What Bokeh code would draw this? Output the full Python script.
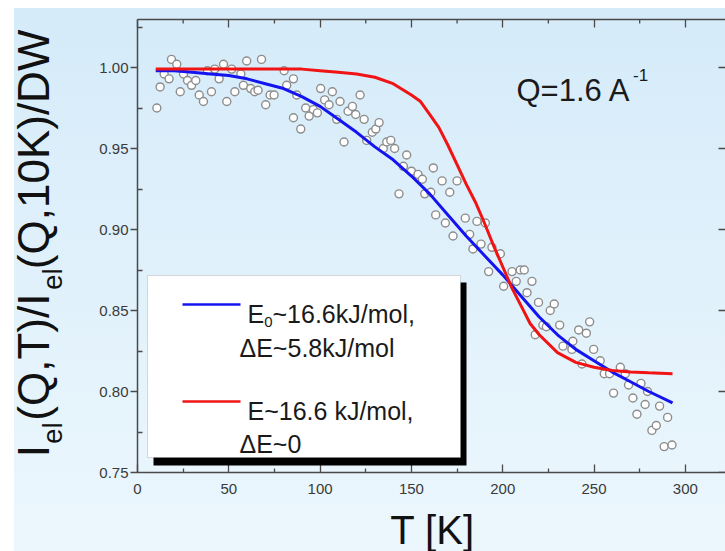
import math
from bokeh.plotting import figure
from bokeh.models import Range1d, LinearAxis, FixedTicker, NumeralTickFormatter, Label, BoxAnnotation
from bokeh.embed import file_html
from bokeh.resources import INLINE

# ---------------- data ----------------
T_obs = [10.6, 12.4, 14.6, 17.3, 18.6, 21.5, 23.4, 25.2, 27.4, 29.6, 31.9, 33.8, 36.1, 38.3, 40.5,
         42.3, 44.7, 47.1, 48.9, 51.6, 53.3, 56.6, 58.0, 59.8, 62.0, 64.2, 66.0, 67.9, 70.2, 72.6,
         74.8, 80.3, 81.7, 85.4, 85.4, 87.2, 89.4, 92.1, 94.0, 96.3, 98.5, 100.3, 102.5, 104.9,
         106.7, 109.1, 110.9, 113.1, 115.3, 117.7, 119.5, 121.9, 124.1, 125.5, 128.6, 130.5,
         132.3, 134.6, 136.5, 138.7, 140.8, 143.2, 145.6, 147.4, 150.0, 153.6, 156.0, 157.3,
         160.6, 162.0, 163.3, 166.8, 171.0, 175.0, 179.5, 168.6, 172.8, 181.9, 185.9, 190.5,
         183.7, 188.1, 194.1, 198.7, 192.3, 200.5, 205.1, 209.6, 211.8, 207.4, 216.0, 213.3,
         219.6, 226.0, 228.2, 222.0, 231.2, 217.8, 223.9, 241.6, 245.8, 247.6, 233.0, 237.9,
         238.4, 249.8, 243.4, 253.4, 255.6, 258.5, 264.4, 267.1, 268.9, 275.7, 260.7, 271.3,
         278.0, 273.5, 279.3, 285.9, 290.3, 281.7, 284.1, 288.4, 292.7]
I_obs = [0.975, 0.988, 0.996, 0.993, 1.005, 1.002, 0.985, 0.996, 0.992, 0.989, 0.992, 0.983, 0.979,
         0.998, 0.985, 0.999, 0.993, 1.002, 0.979, 0.999, 0.985, 0.996, 0.989, 1.004, 0.987, 0.985,
         0.986, 1.005, 0.977, 0.983, 0.983, 0.998, 0.989, 0.993, 0.969, 0.983, 0.962, 0.975, 0.970,
         0.974, 0.972, 0.987, 0.980, 0.977, 0.985, 0.968, 0.979, 0.954, 0.973, 0.976, 0.971, 0.983,
         0.968, 0.955, 0.960, 0.962, 0.966, 0.950, 0.954, 0.955, 0.950, 0.922, 0.939, 0.946, 0.936,
         0.934, 0.931, 0.922, 0.923, 0.938, 0.909, 0.930, 0.923, 0.930, 0.907, 0.904, 0.896, 0.897,
         0.905, 0.904, 0.888, 0.891, 0.889, 0.885, 0.874, 0.865, 0.874, 0.875, 0.875, 0.868, 0.868,
         0.861, 0.855, 0.850, 0.854, 0.841, 0.841, 0.835, 0.840, 0.838, 0.836, 0.843, 0.828, 0.826,
         0.831, 0.826, 0.817, 0.819, 0.811, 0.811, 0.815, 0.811, 0.804, 0.805, 0.799, 0.796, 0.792,
         0.786, 0.800, 0.791, 0.784, 0.776, 0.779, 0.766, 0.767]

T_blue = [10, 20, 30, 40, 50, 60, 70, 80, 90, 100, 110, 120, 130, 140, 150, 160, 170, 180, 190,
          200, 210, 220, 230, 240, 250, 260, 270, 280, 293]
I_blue = [0.998, 0.998, 0.997, 0.996, 0.995, 0.993, 0.990, 0.987, 0.982, 0.976, 0.968, 0.960,
          0.951, 0.943, 0.933, 0.922, 0.909, 0.896, 0.884, 0.872, 0.859, 0.846, 0.835, 0.826,
          0.819, 0.812, 0.806, 0.800, 0.793]

T_red = [10, 30, 50, 70, 90, 100, 110, 120, 130, 140, 150, 155, 160, 165, 170, 175, 180, 185, 190,
         195, 200, 205, 210, 215, 220, 230, 240, 250, 260, 270, 280, 293]
I_red = [0.999, 0.999, 0.999, 0.999, 0.999, 0.998, 0.997, 0.996, 0.994, 0.990, 0.983, 0.979,
         0.971, 0.963, 0.952, 0.940, 0.928, 0.917, 0.904, 0.890, 0.877, 0.864, 0.853, 0.842,
         0.835, 0.824, 0.818, 0.815, 0.813, 0.812, 0.8115, 0.811]

x_ticks = [0, 50, 100, 150, 200, 250, 300]
x_minor = [25, 75, 125, 175, 225, 275]
y_ticks = [0.75, 0.80, 0.85, 0.90, 0.95, 1.00]
y_minor = [0.775, 0.825, 0.875, 0.925, 0.975, 1.025]

legend_blue = ["E", "0", "~16.6kJ/mol,", "\u0394E~5.8kJ/mol"]
legend_red = ["E~16.6 kJ/mol,", "\u0394E~0"]
q_text = ["Q=1.6 A", "-1"]
y_main = ["I", "(Q,T)/I", "(Q,10K)/DW"]
y_sub = "el"
x_label = "T [K]"

# ---------------- layout (pixels) ----------------
W, H = 725, 551
FL, FR, FT, FB = 137, 725, 19, 472
X0, X1 = 0.0, 322.0
Y0 = 0.75
Y1 = 0.75 + (FB - FT) / 1620.0

def dx(px):
    return X0 + (px - FL) * (X1 - X0) / (FR - FL)

def dy(py):
    return Y0 + (FB - py) * (Y1 - Y0) / (FB - FT)

NB = "\u00a0"
CW = {"I": 278, "(": 333, ")": 333, "Q": 778, ",": 278, "T": 611, "/": 278, "1": 556, "0": 556,
      "K": 667, "D": 722, "W": 944, "e": 556, "l": 222, "E": 667, "~": 584, "6": 556, ".": 278,
      "k": 500, "J": 500, "m": 833, "o": 556, " ": 278, NB: 278, "5": 556, "8": 556, "=": 584,
      "A": 667, "-": 333, "\u0394": 668}

def tw(s, size):
    return sum(CW.get(c, 556) for c in s) / 1000.0 * size

FONT = "Liberation Sans"
AX = "#4a4a4a"

p = figure(width=W, height=H, x_range=Range1d(X0, X1), y_range=Range1d(Y0, Y1),
           x_axis_type=None, y_axis_type=None, output_backend="svg", toolbar_location=None,
           min_border_left=FL, min_border_right=0, min_border_top=FT, min_border_bottom=H - FB,
           styles={"background": "linear-gradient(#d5ebf9, #ecf7fd) 14px 8px / 711px 543px no-repeat, #ffffff"})
p.border_fill_color = None
p.background_fill_color = None
p.outline_line_color = None

def style_axis(a):
    a.axis_line_color = AX
    a.axis_line_width = 1.5
    a.major_tick_line_color = AX
    a.minor_tick_line_color = AX
    a.major_tick_line_width = 1.3
    a.minor_tick_line_width = 1.3
    a.major_label_text_font = FONT
    a.major_label_text_font_size = "15px"
    a.major_label_text_color = "#3a3a3a"

xb = LinearAxis(ticker=FixedTicker(ticks=x_ticks, minor_ticks=x_minor))
style_axis(xb)
xb.major_tick_in, xb.major_tick_out = 8, 0
xb.minor_tick_in, xb.minor_tick_out = 4, 0
xb.major_label_standoff = 11
p.add_layout(xb, "below")

# top frame edge: an unlabelled axis whose (label-free) minor ticks sit at the 50 K marks
xt = LinearAxis(ticker=FixedTicker(ticks=[], minor_ticks=x_ticks))
style_axis(xt)
xt.major_tick_in, xt.major_tick_out = 0, 0
xt.minor_tick_in, xt.minor_tick_out = 8, 0
xt.major_label_standoff = 0
p.add_layout(xt, "above")
# short 25 K ticks on the top edge
p.segment(x0=x_minor, x1=x_minor, y0=[Y1] * len(x_minor), y1=[dy(FT + 4)] * len(x_minor),
          line_color=AX, line_width=1.3)

yl = LinearAxis(ticker=FixedTicker(ticks=y_ticks, minor_ticks=y_minor),
                formatter=NumeralTickFormatter(format="0.00"))
style_axis(yl)
yl.major_tick_in, yl.major_tick_out = 0, 7
yl.minor_tick_in, yl.minor_tick_out = 5, 0
yl.major_label_standoff = 2
p.add_layout(yl, "left")

# right-edge inward ticks (frame edge lies at the window edge)
p.segment(x0=[dx(718)] * len(y_ticks), x1=[X1] * len(y_ticks), y0=y_ticks, y1=y_ticks,
          line_color=AX, line_width=1.3)

# data
p.scatter(T_obs, I_obs, marker="circle", size=8, fill_color="white", line_color="#8d8d8d",
          line_width=1.4)
p.line(T_blue, I_blue, line_color="#1414f0", line_width=3)
p.line(T_red, I_red, line_color="#f01414", line_width=3)

# legend box with shadow
p.add_layout(BoxAnnotation(left=dx(153), right=dx(466), top=dy(282), bottom=dy(465),
                           fill_color="black", fill_alpha=1.0, line_color=None))
p.add_layout(BoxAnnotation(left=dx(147), right=dx(460), top=dy(275), bottom=dy(457),
                           fill_color="white", fill_alpha=1.0, line_color="#8c8c8c", line_width=1))
p.line([dx(182), dx(240)], [dy(304), dy(304)], line_color="#1414f0", line_width=2.5, level="overlay")
p.line([dx(182), dx(240)], [dy(401), dy(401)], line_color="#f01414", line_width=2.5, level="overlay")

def lab(text, px, py, size, angle=0.0, align="left", color="#1a1a1a", place=None):
    l = Label(x=dx(px), y=dy(py), text=text, text_font=FONT, text_font_size=f"{size}px",
              text_color=color, text_align=align, text_baseline="alphabetic",
              angle=angle, level="overlay")
    if place is None:
        p.add_layout(l)
    else:
        p.add_layout(l, place)

LS, SS = 25, 15
lab(legend_blue[0], 247, 313, LS)
x_sub = 247 + tw(legend_blue[0], LS)
lab(legend_blue[1], x_sub, 321, SS)
lab(legend_blue[2], x_sub + tw(legend_blue[1], SS), 313, LS)
lab(legend_blue[3], 239, 347, LS)
lab(legend_red[0], 247, 410, LS)
lab(legend_red[1], 239, 443, LS)

# Q annotation
QS = 31
lab(q_text[0], 516, 90, QS)
lab(q_text[1], 516 + tw(q_text[0], QS) + 2, 74, 17)

# x axis title (side-panel labels render ~13 px lower than their data position)
lab(x_label, 432, 529, 40, align="center", color="#111111", place="below")

# y axis title (rotated); gaps of no-break spaces leave room for the subscripts
# (labels in the left panel render ~20 px right of their data position)
MS, SUBS = 44, 28
gap = NB * 2
main_text = y_main[0] + gap + y_main[1] + gap + y_main[2]
total = tw(main_text, MS)
y_start = 29 + total
lab(main_text, 33, y_start, MS, angle=math.pi / 2, color="#111111", place="left")
# subscripts: one label, second "el" pushed along by no-break spaces
s1 = tw(y_main[0], MS) + 1.0
s2 = tw(y_main[0] + gap + y_main[1], MS) + 1.0
n_sp = int(round((s2 - s1 - tw(y_sub, SUBS)) / tw(NB, SUBS)))
sub_text = y_sub + NB * n_sp + y_sub
lab(sub_text, 52, y_start - s1, SUBS, angle=math.pi / 2, color="#111111", place="left")

open("out.html", "w").write(file_html(p, INLINE))
